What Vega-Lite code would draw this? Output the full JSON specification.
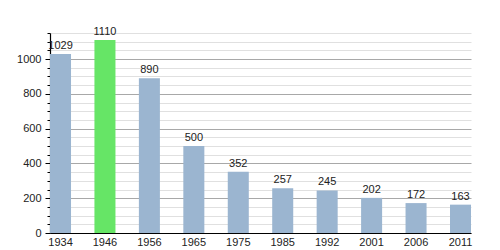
{
  "$schema": "https://vega.github.io/schema/vega-lite/v6.json",
  "width": 421,
  "height": 200,
  "autosize": "none",
  "padding": {"left": 50, "top": 33, "right": 29, "bottom": 17},
  "background": "white",
  "config": {"view": {"stroke": null}, "font": "Liberation Sans"},
  "data": {"values": [
    {"year": "1934", "pop": 1029, "hl": "n"},
    {"year": "1946", "pop": 1110, "hl": "y"},
    {"year": "1956", "pop": 890, "hl": "n"},
    {"year": "1965", "pop": 500, "hl": "n"},
    {"year": "1975", "pop": 352, "hl": "n"},
    {"year": "1985", "pop": 257, "hl": "n"},
    {"year": "1992", "pop": 245, "hl": "n"},
    {"year": "2001", "pop": 202, "hl": "n"},
    {"year": "2006", "pop": 172, "hl": "n"},
    {"year": "2011", "pop": 163, "hl": "n"}
  ]},
  "encoding": {
    "x": {"field": "year", "type": "ordinal", "sort": null,
      "scale": {"paddingInner": 0.527, "paddingOuter": 0},
      "axis": {"title": null, "labelAngle": 0, "ticks": false, "domainColor": "#000", "domainWidth": 1.2,
        "labelColor": "#222", "labelFontSize": 11, "labelPadding": 3, "grid": false}},
    "y": {"field": "pop", "type": "quantitative",
      "scale": {"domain": [0, 1150], "nice": false, "zero": true},
      "axis": {"title": null, "format": "d",
        "values": [0,50,100,150,200,250,300,350,400,450,500,550,600,650,700,750,800,850,900,950,1000,1050,1100,1150],
        "labelExpr": "datum.value % 200 === 0 ? datum.label : ''",
        "grid": true,
        "gridColor": {"condition": {"test": "datum.value % 200 === 0", "value": "#a8a8a8"}, "value": "#e0e0e0"},
        "gridWidth": 1,
        "tickColor": "#000",
        "tickSize": {"condition": {"test": "datum.value % 200 === 0", "value": 5}, "value": 3},
        "domainColor": "#000", "domainWidth": 1.2,
        "labelColor": "#222", "labelFontSize": 11, "labelPadding": 4}}
  },
  "layer": [
    {"mark": {"type": "bar"},
     "encoding": {"color": {"field": "hl", "type": "nominal",
       "scale": {"domain": ["n", "y"], "range": ["#9bb5d0", "#66e566"]}, "legend": null}}},
    {"mark": {"type": "text", "baseline": "bottom", "dy": -3, "fontSize": 11, "color": "#222"},
     "encoding": {"text": {"field": "pop", "type": "quantitative", "format": "d"}}}
  ]
}
